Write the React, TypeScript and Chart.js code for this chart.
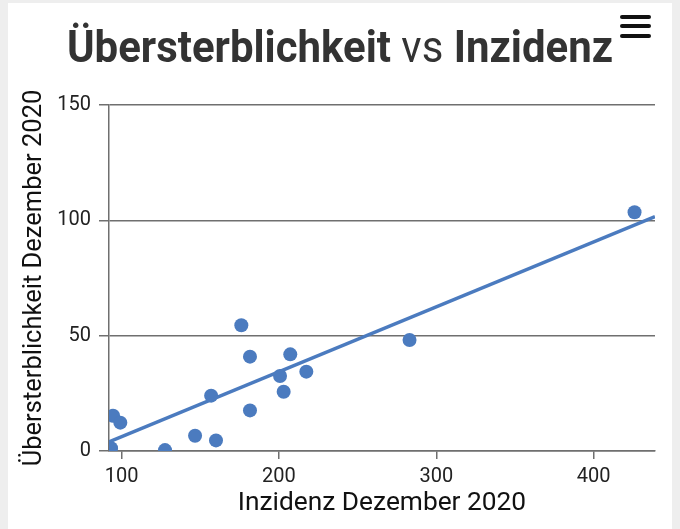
import { useEffect, useRef } from 'react'
import Chart from 'chart.js/auto'

// Inzidenz (x) und Übersterblichkeit (y), Dezember 2020
const inzidenz = [94.6, 99.2, 93.3, 127.6, 146.7, 160.0, 156.9, 176.1, 181.6, 181.6, 200.7, 203.0, 207.2, 217.4, 283.0, 426.0]
const uebersterblichkeit = [15.3, 12.3, 1.2, 0.4, 6.6, 4.6, 24.0, 54.5, 40.9, 17.6, 32.5, 25.7, 41.9, 34.4, 48.1, 103.5]

// Trendlinie, Anfang und Ende
const trendX = [92, 439]
const trendY = [4.0, 101.6]

const xTicks = [100, 200, 300, 400]
const yTicks = [0, 50, 100, 150]

const blue = '#4b7bbf'
const grid = '#6f6f6f'

export default function App() {
  const canvasRef = useRef<HTMLCanvasElement>(null)

  useEffect(() => {
    if (!canvasRef.current) return
    Chart.defaults.font.family = 'Roboto'

    const chart = new Chart(canvasRef.current, {
      type: 'scatter',
      data: {
        datasets: [
          {
            label: 'Trend',
            type: 'line',
            data: trendX.map((x, i) => ({ x, y: trendY[i] })),
            borderColor: blue,
            borderWidth: 3.5,
            pointRadius: 0,
            fill: false
          },
          {
            label: 'Länder',
            data: inzidenz.map((x, i) => ({ x, y: uebersterblichkeit[i] })),
            backgroundColor: blue,
            borderWidth: 0,
            pointRadius: 7,
            pointHoverRadius: 7
          }
        ]
      },
      options: {
        animation: false,
        responsive: false,
        layout: { padding: { top: 105, right: 25, bottom: 0, left: 0 } },
        plugins: {
          legend: { display: false },
          tooltip: { enabled: false }
        },
        scales: {
          x: {
            type: 'linear',
            min: trendX[0],
            max: trendX[1],
            afterBuildTicks: (axis: any) => {
              axis.ticks = xTicks.map((value) => ({ value }))
            },
            afterFit: (scale: any) => {
              scale.height = 78
            },
            border: { color: grid, width: 1.5 },
            grid: {
              drawOnChartArea: false,
              drawTicks: true,
              tickLength: 8,
              color: grid,
              lineWidth: 1.5
            },
            ticks: {
              color: '#222',
              padding: 6,
              font: { size: 20 },
              maxRotation: 0
            },
            title: {
              display: true,
              text: 'Inzidenz Dezember 2020',
              color: '#111',
              font: { size: 26.3 },
              padding: { top: 0, bottom: 9.6 }
            }
          },
          y: {
            type: 'linear',
            min: yTicks[0],
            max: yTicks[yTicks.length - 1],
            afterBuildTicks: (axis: any) => {
              axis.ticks = yTicks.map((value) => ({ value }))
            },
            afterFit: (scale: any) => {
              scale.width = 109
            },
            border: { color: grid, width: 1.5 },
            grid: {
              color: grid,
              lineWidth: 1.5,
              tickLength: 10
            },
            ticks: {
              color: '#222',
              padding: 8,
              font: { size: 20 }
            },
            title: {
              display: true,
              text: 'Übersterblichkeit Dezember 2020',
              color: '#111',
              font: { size: 25.5 },
              padding: { top: 19, bottom: 0 }
            }
          }
        }
      }
    })

    return () => {
      chart.destroy()
    }
  }, [])

  return (
    <div style={{ position: 'absolute', left: 0, top: 0, width: 680, height: 529, background: '#eeeeee', overflow: 'hidden' }}>
      <div style={{ position: 'absolute', left: 8, top: 3, width: 664, height: 526, background: '#ffffff' }} />
      <canvas ref={canvasRef} width={680} height={529} style={{ position: 'absolute', left: 0, top: 0 }} />
      <div
        style={{
          position: 'absolute',
          left: 0,
          top: 24.7,
          width: 680,
          textAlign: 'center',
          fontFamily: 'Roboto',
          fontSize: 44,
          lineHeight: 1,
          color: '#333333',
          whiteSpace: 'nowrap',
          transform: 'scaleX(0.953)',
          transformOrigin: '340px 0'
        }}
      >
        <b>Übersterblichkeit</b> vs <b>Inzidenz</b>
      </div>
      {[16.7, 26, 35.7].map((y) => (
        <div key={y} style={{ position: 'absolute', left: 620, top: y - 2, width: 31, height: 4, borderRadius: 2, background: '#111' }} />
      ))}
    </div>
  )
}
